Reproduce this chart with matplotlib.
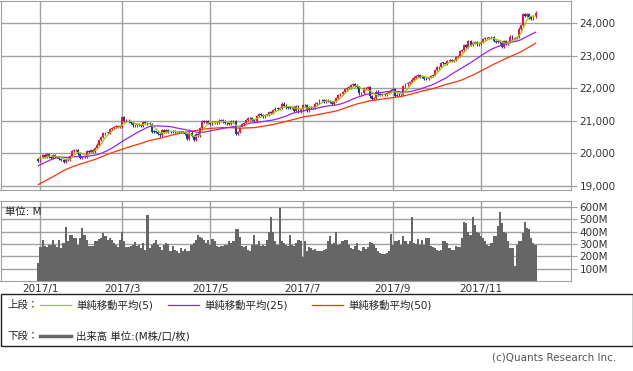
import numpy as np
import pandas as pd
import matplotlib
matplotlib.use('Agg')
import matplotlib.pyplot as plt
from matplotlib.lines import Line2D
from matplotlib.patches import Rectangle

plt.rcParams['font.family'] = ['DejaVu Sans', 'Noto Sans CJK JP']

# 終値 (2016/10/19 - 2016/12/30, 移動平均の計算用)
close_2016 = [
    18202, 18162, 18145, 18223, 18169, 18199, 18170, 18161, 18142,
    18037, 17959, 17931, 17888, 18260, 18332, 18590, 18808, 18848, 18869, 18924,
    18868, 18904, 18868, 18957, 19024, 19083, 19153, 19098, 19122, 19124,
    19192, 19171, 19216, 19252, 19549, 19615, 19757, 19797, 19912, 19793, 19853,
    19843, 19884, 19975, 19942, 19919, 19934, 19946, 19834, 19819, 19763,
]
# 終値 2017
close_2017 = [
    # 1月
    19882, 19942, 19899, 19964, 19887, 19856, 19954, 19891, 19886, 19827,
    19805, 19732, 19827, 19800, 19913, 20069, 20101, 20094, 19971, 19864,
    # 2月
    19891, 19885, 20071, 20052, 20090, 20054, 20172, 20269, 20412, 20504,
    20612, 20620, 20624, 20743, 20776, 20810, 20822, 20837, 20812,
    # 3月
    21116, 21003, 21006, 20954, 20925, 20856, 20858, 20903, 20881, 20837,
    20950, 20935, 20915, 20906, 20668, 20661, 20657, 20597, 20551, 20702,
    20659, 20728, 20663,
    # 4月
    20650, 20689, 20648, 20663, 20656, 20658, 20651, 20592, 20453, 20637,
    20523, 20404, 20579, 20548, 20764, 20996, 20975, 20981, 20941,
    # 5月
    20913, 20950, 20958, 20951, 21007, 21012, 20976, 20943, 20919, 20897,
    20982, 20980, 20607, 20663, 20805, 20895, 20938, 21012, 21083, 21080,
    21029, 21009,
    # 6月
    21144, 21206, 21184, 21136, 21174, 21183, 21272, 21236, 21328, 21375,
    21360, 21384, 21529, 21467, 21410, 21397, 21395, 21410, 21311, 21455,
    21287, 21350,
    # 7月
    21479, 21478, 21320, 21414, 21409, 21409, 21532, 21553, 21638, 21630,
    21575, 21641, 21612, 21580, 21513, 21613, 21711, 21797, 21830, 21891,
    # 8月
    21964, 22016, 22026, 22093, 22118, 22085, 22049, 21844, 21858, 21994,
    21999, 22025, 21751, 21675, 21704, 21900, 21812, 21783, 21814, 21808,
    21865, 21892, 21948,
    # 9月
    21988, 21753, 21808, 21785, 21798, 22057, 22119, 22158, 22203, 22268,
    22331, 22371, 22413, 22359, 22350, 22296, 22284, 22341, 22381, 22405,
    # 10月
    22558, 22642, 22662, 22775, 22774, 22761, 22831, 22873, 22841, 22872,
    22957, 22997, 23158, 23163, 23329, 23274, 23442, 23329, 23401, 23434,
    23349, 23377,
    # 11月
    23435, 23516, 23539, 23548, 23557, 23563, 23462, 23422, 23440, 23409,
    23271, 23458, 23358, 23430, 23591, 23526, 23558, 23581, 23837, 23941,
    24272,
    # 12月
    24232, 24290, 24181, 24141, 24211, 24329,
]
# 出来高 (M) 2016/12/30 - 2017/12/8
volume = [
    150, 273, 335, 281, 273, 295, 295, 335, 295, 273,
    335, 268, 308, 435, 322, 370, 370, 349, 349, 295,
    349, 430, 376, 335, 286, 286, 286, 322, 322, 343,
    349, 389, 362, 335, 349, 335, 308, 289, 273, 335,
    402, 327, 273, 273, 281, 295, 316, 281, 295, 268,
    308, 254, 537, 268, 295, 308, 335,
    294, 273, 254, 294, 308, 300, 240, 281, 254, 240,
    227, 267, 240, 262, 240, 240, 294, 308, 335, 375,
    354, 348, 335, 308, 335, 294, 343, 327, 281, 273,
    281, 281, 294, 294, 321, 308, 321, 424, 424, 354,
    281, 273, 281, 254, 240, 294, 375, 294, 327, 281,
    294, 281, 335, 402, 524, 402, 321, 294, 597, 321,
    308,
    294, 281, 370, 294, 281, 308, 335, 321, 192, 321,
    246, 273, 267, 254, 262, 240, 240, 246, 254, 262,
    321, 362, 300, 308, 402, 294, 300, 321, 335, 335,
    294, 267, 259, 281, 308, 254, 240, 273, 262, 273,
    316, 308, 300, 267, 240, 224, 219, 219, 227, 240,
    381, 294, 327, 327, 335, 294, 362, 327, 300, 321,
    524,
    308, 300, 343, 294, 335, 294, 348, 348, 281, 273,
    267, 254, 240, 254, 321, 321, 308, 267, 254, 254,
    281, 273, 273, 348, 478, 470, 402, 375, 516, 456,
    402, 389, 362, 348, 327, 294, 281, 308, 362, 362,
    443, 559, 470, 402, 389, 327, 267, 267, 119, 294,
    327, 327, 389, 483, 429, 424, 348, 308, 294,
]
holidays = ['2016-11-24', '2016-12-26', '2017-01-02', '2017-01-16', '2017-02-20',
            '2017-04-14', '2017-05-29', '2017-07-04', '2017-09-04', '2017-11-23']
label_months = [1, 3, 5, 7, 9, 11]
price_ticks = [19000, 20000, 21000, 22000, 23000, 24000]
vol_ticks = [100, 200, 300, 400, 500, 600]

days = pd.bdate_range('2016-10-19', '2017-12-08')
days = days[~days.isin(pd.to_datetime(holidays))]
closes = pd.Series(close_2016 + close_2017, index=days)
n0 = len(close_2016) - 1  # 2016/12/30

ma5 = closes.rolling(5).mean().values[n0:]
ma25 = closes.rolling(25).mean().values[n0:]
ma50 = closes.rolling(50).mean().values[n0:]
c = closes.values[n0:]
o = closes.values[n0 - 1:-1]
d = days[n0:]
x = np.arange(len(c))

month_pos = []
for m in label_months:
    month_pos.append(int(np.argmax((d.year == 2017) & (d.month == m))))

W, H = 633, 371
fig = plt.figure(figsize=(W / 100, H / 100), dpi=100)

def fx(px):
    return px / W

def fy(py):
    return 1 - py / H

XL = (-18.05, 253.9)
GRID = '#a0a0a0'
TXT = '#333333'

# 上段
ax = fig.add_axes([fx(0.5), fy(190), fx(570.5), (190 - 0.5) / H])
up = c >= o
cols = np.where(up, '#ee1144', '#1a3d99')
lo = np.minimum(o, c)
hi = np.maximum(o, c)
ax.vlines(x, lo - 35, hi + 35, colors=cols, lw=0.8, zorder=3)
ax.bar(x, np.maximum(hi - lo, 20), bottom=lo, width=0.9, color=cols, lw=0, zorder=3)
ax.plot(x, ma50, color='#ff3300', lw=0.9, zorder=4)
ax.plot(x, ma25, color='#9922ee', lw=0.9, zorder=4)
ax.plot(x, ma5, color='#99cc00', lw=0.9, zorder=5)
ax.set_xlim(*XL)
ax.set_ylim(18871, 24701)
ax.set_yticks(price_ticks)
ax.set_yticklabels([f'{v:,}' for v in price_ticks])
ax.set_xticks(month_pos)
ax.yaxis.tick_right()
ax.tick_params(axis='x', length=0, labelbottom=False)
ax.tick_params(axis='y', length=4, color=GRID, labelsize=7.5, labelcolor=TXT, pad=2)
ax.grid(color=GRID, lw=1)
ax.set_axisbelow(True)
for s in ax.spines.values():
    s.set_color(GRID)

# 下段
vx = fig.add_axes([fx(0.5), fy(281), fx(570.5), 80 / H])
vx.bar(x, volume, width=1.0, color='#666666', lw=0, zorder=3)
vx.set_xlim(*XL)
vx.set_ylim(0, 650)
vx.set_yticks(vol_ticks)
vx.set_yticklabels([f'{v}M' for v in vol_ticks])
vx.set_xticks(month_pos)
vx.set_xticklabels([f'2017/{m}' for m in label_months])
vx.yaxis.tick_right()
vx.tick_params(axis='x', length=0, labelsize=7.5, labelcolor=TXT, pad=2)
vx.tick_params(axis='y', length=4, color=GRID, labelsize=7.5, labelcolor=TXT, pad=2)
vx.grid(color=GRID, lw=1)
vx.set_axisbelow(True)
for s in vx.spines.values():
    s.set_color(GRID)
vx.text(0.008, 0.93, '単位: M', transform=vx.transAxes, ha='left', va='top',
        fontsize=7.5, color='#222222', zorder=5)

# 凡例
fig.add_artist(Rectangle((fx(0.5), fy(346)), fx(632), 52 / H, transform=fig.transFigure,
                         fill=False, ec='#222222', lw=1))
fs = 7.5
fig.text(fx(7), fy(305), '上段：', fontsize=fs, va='center', color='#222222')
items = [(40, '#99cc00', '単純移動平均(5)'),
         (168, '#9922ee', '単純移動平均(25)'),
         (312, '#ff3300', '単純移動平均(50)')]
for px, col, lab in items:
    fig.add_artist(Line2D([fx(px), fx(px + 31)], [fy(305), fy(305)], color=col, lw=0.9))
    fig.text(fx(px + 36), fy(305), lab, fontsize=fs, va='center', color='#222222')
fig.text(fx(7), fy(336), '下段：', fontsize=fs, va='center', color='#222222')
fig.add_artist(Line2D([fx(40), fx(71)], [fy(336), fy(336)], color='#666666', lw=2.5))
fig.text(fx(76), fy(336), '出来高 単位:(M株/口/枚)', fontsize=fs, va='center', color='#222222')

fig.text(fx(616), fy(357), '(c)Quants Research Inc.', fontsize=fs, ha='right', va='center',
         color='#555555')

fig.savefig('out.png', dpi=100)
